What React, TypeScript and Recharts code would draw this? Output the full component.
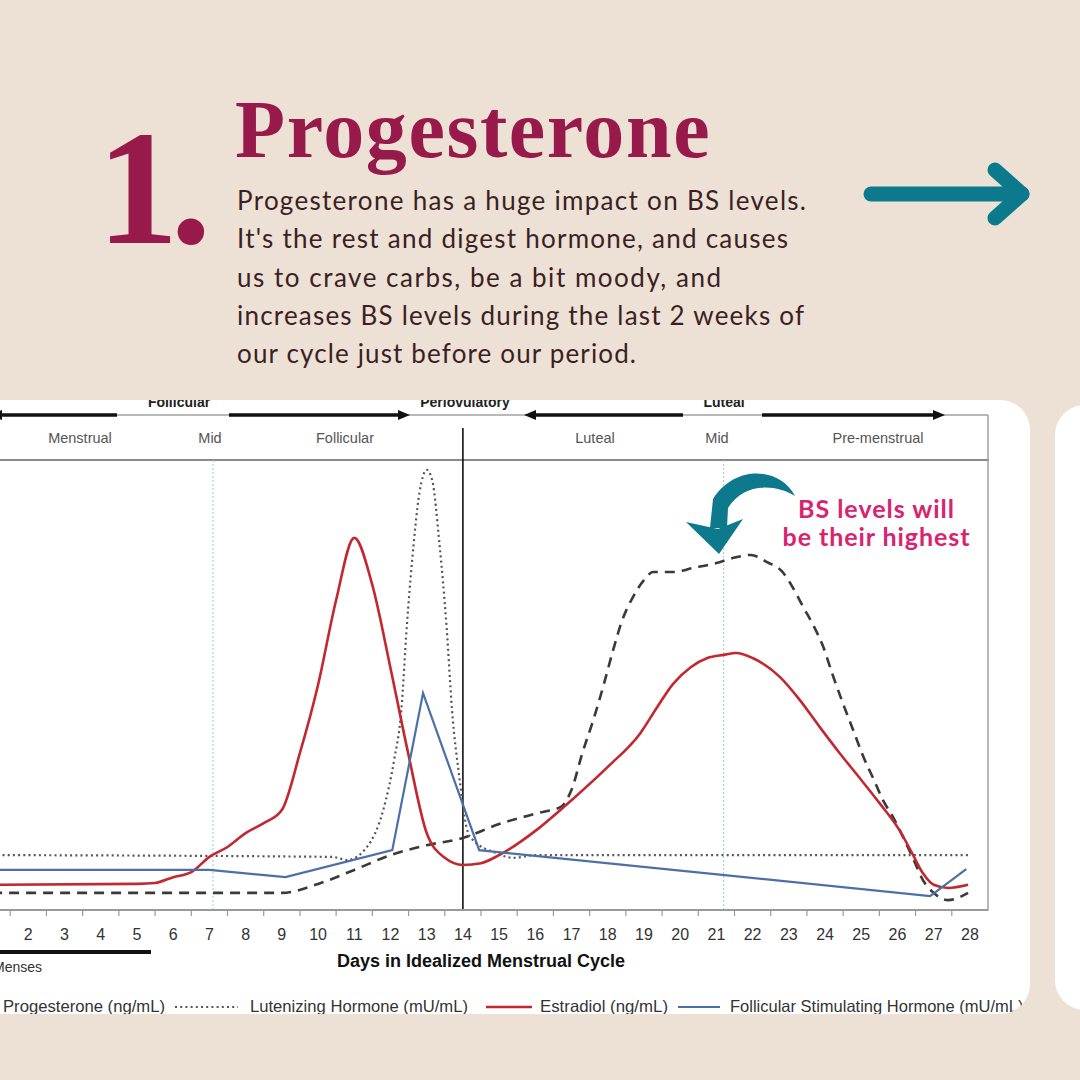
import React from 'react';
import { LineChart, Line, XAxis, YAxis, ReferenceLine } from 'recharts';

// ---------- data ----------
const DAY_TICKS = [1, 2, 3, 4, 5, 6, 7, 8, 9, 10, 11, 12, 13, 14, 15, 16, 17, 18, 19, 20, 21, 22, 23, 24, 25, 26, 27, 28];

const PROG_DAYS = [1, 9, 10, 11, 12, 13, 14, 15, 16.1, 16.7, 17.0, 17.3, 17.6, 17.9, 18.15, 18.4, 18.7, 19.0, 19.25, 19.8, 20.35, 21.0, 21.45, 21.95, 22.4, 22.85, 23.1, 23.4, 23.7, 23.95, 24.2, 24.5, 24.8, 25.05, 25.35, 25.6, 25.9, 26.15, 26.45, 26.7, 27.0, 27.4, 27.95];
const PROG_VALUES = [3.8, 3.8, 5.8, 8.9, 12.2, 14.4, 16.0, 19.1, 21.6, 22.9, 26.7, 34.9, 42.2, 50.4, 57.8, 64.4, 69.6, 73.3, 75.1, 75.1, 76.0, 77.1, 78.2, 78.9, 77.3, 74.9, 71.8, 67.3, 62.9, 58.5, 52.5, 45.8, 39.5, 34.2, 28.9, 24.4, 20.3, 16.3, 11.1, 6.7, 3.8, 2.2, 3.8];

const LH_DAYS = [1, 10.4, 10.8, 11.35, 11.8, 12.1, 12.3, 12.45, 12.6, 12.8, 13.0, 13.15, 13.35, 13.55, 13.7, 13.9, 14.1, 14.2, 14.9, 15.4, 16, 28];
const LH_VALUES = [12.2, 11.8, 11.1, 14.0, 22.2, 33.3, 44.4, 62.9, 77.8, 92.7, 97.8, 95.6, 81.6, 62.9, 44.4, 29.6, 18.4, 16.2, 12.7, 11.6, 12.2, 12.2];

const E2_DAYS = [1, 5, 5.5, 6, 6.5, 7, 7.5, 8, 8.5, 9, 9.5, 10, 10.5, 11, 11.5, 12, 12.5, 13, 13.5, 14, 14.5, 15, 16.1, 17.0, 18.0, 18.9, 19.35, 19.8, 20.3, 20.75, 21.2, 21.55, 22.0, 22.75, 23.3, 23.85, 24.4, 25.0, 25.5, 26.05, 26.4, 26.7, 27.0, 27.4, 27.95];
const E2_VALUES = [5.6, 5.8, 6.0, 7.3, 8.4, 11.8, 14.0, 17.1, 19.3, 22.2, 34.9, 50.0, 68.9, 82.7, 72.2, 53.8, 34.4, 17.1, 11.6, 10.0, 10.4, 12.2, 18.2, 24.4, 31.8, 39.3, 44.9, 50.2, 54.0, 56.0, 56.7, 57.1, 56.0, 51.8, 46.7, 40.7, 34.9, 28.9, 23.8, 17.8, 12.7, 8.2, 5.6, 4.9, 5.6];

const FSH_DAYS = [1, 7, 9.1, 12.05, 12.9, 14.45, 26.9, 27.9];
const FSH_VALUES = [8.9, 8.9, 7.3, 13.3, 48.2, 13.3, 3.1, 9.1];

const SERIES_NAMES = ['Progesterone (ng/mL)', 'Lutenizing Hormone (mU/mL)', 'Estradiol (ng/mL)', 'Follicular Stimulating Hormone (mU/mL)'];

const SUB_PHASES = ['Menstrual', 'Mid', 'Follicular', 'Luteal', 'Mid', 'Pre-menstrual'];
const MAIN_PHASES = ['Follicular', 'Periovulatory', 'Luteal'];
const OVULATION_DAY = 14;
const MID_DAYS = [7.1, 21.2];

const TITLE = 'Progesterone';
const BODY_LINES = [
  'Progesterone has a huge impact on BS levels.',
  "It's the rest and digest hormone, and causes",
  'us to crave carbs, be a bit moody, and',
  'increases BS levels during the last 2 weeks of',
  'our cycle just before our period.',
];
const NOTE_LINES = ['BS levels will', 'be their highest'];

// ---------- layout ----------
const X_MIN = 0.5;
const X_MAX = 28.5;
const CHART_W = 1140;
const CHART_H = 700;
const MARGIN = { top: 80, right: 92, bottom: 130, left: 34 };
const HALF_DAY = (CHART_W - MARGIN.left - MARGIN.right) / (X_MAX - X_MIN) / 2;

const BODY_WIDTHS = [569, 551, 484, 567, 399];
const NOTE_WIDTHS = [156, 187];
// legend: sample start / end and text start, page x
const LEGEND_SAMPLE_X = [[-62, -7], [175, 238], [486, 532], [678, 720]];
const LEGEND_TEXT_X = [3, 250, 540, 730];
const LEGEND_TEXT_W = [162, 218, 128, 300];

const BG = '#ece1d4';
const MAROON = '#971a4a';
const TEAL = '#0c7a8c';
const PINK = '#d9236f';
const SANS = "'Liberation Sans', Arial, sans-serif";

const rows = (days: number[], values: number[]) => days.map((day, i) => ({ day, value: values[i] }));

const SERIES = [
  { name: SERIES_NAMES[0], data: rows(PROG_DAYS, PROG_VALUES), color: '#3a3a3a', width: 2.6, dash: '10 7', curve: 'monotone' },
  { name: SERIES_NAMES[1], data: rows(LH_DAYS, LH_VALUES), color: '#555555', width: 2.2, dash: '2 3.2', curve: 'monotone' },
  { name: SERIES_NAMES[2], data: rows(E2_DAYS, E2_VALUES), color: '#c3272f', width: 2.6, dash: undefined, curve: 'monotone' },
  { name: SERIES_NAMES[3], data: rows(FSH_DAYS, FSH_VALUES), color: '#4d6fa8', width: 2.2, dash: undefined, curve: 'linear' },
];

const DayTick = (props: any) => {
  const { x, y, payload } = props;
  return (
    <g>
      <line x1={x - HALF_DAY} x2={x - HALF_DAY} y1={y} y2={y + 6} stroke="#9a9a9a" strokeWidth={1.2} />
      <text x={x} y={y + 30} textAnchor="middle" fontSize={16} fill="#333" fontFamily={SANS}>
        {payload.value}
      </text>
    </g>
  );
};

const Arrow = ({ x1, x2, y, dir }: { x1: number; x2: number; y: number; dir: 'l' | 'r' }) => {
  const tip = dir === 'r' ? x2 + 8 : x1 - 8;
  const base = dir === 'r' ? x2 - 4 : x1 + 4;
  return (
    <g>
      <line x1={x1} x2={x2} y1={y} y2={y} stroke="#111" strokeWidth={3.5} />
      <polygon points={`${tip},${y} ${base},${y - 5} ${base},${y + 5}`} fill="#111" />
    </g>
  );
};

export default function App() {
  return (
    <div style={{ position: 'absolute', left: 0, top: 0, width: 1080, height: 1080, background: BG, overflow: 'hidden' }}>
      {/* Header */}
      <svg width={1080} height={400} style={{ position: 'absolute', left: 0, top: 0 }}>
        <text x={97} y={243} fontFamily="'Liberation Serif', 'Times New Roman', serif" fontWeight={700} fontSize={163} fill={MAROON} letterSpacing={-8}>
          1.
        </text>
        <text x={235} y={157} fontFamily="'Liberation Serif', 'Times New Roman', serif" fontWeight={700} fontSize={82} fill={MAROON} letterSpacing={1.6}>
          {TITLE}
        </text>
        {BODY_LINES.map((t, i) => (
          <text key={i} x={237} y={210 + i * 38.3} fontFamily="Lato, sans-serif" fontSize={26} fill="#3b1f24" textLength={BODY_WIDTHS[i]} lengthAdjust="spacing">
            {t}
          </text>
        ))}
        <line x1={871} x2={1022} y1={194} y2={194} stroke={TEAL} strokeWidth={15} strokeLinecap="round" />
        <polyline points="995,170 1022,194 995,218" fill="none" stroke={TEAL} strokeWidth={15} strokeLinecap="round" strokeLinejoin="round" />
      </svg>

      {/* second card peeking at right */}
      <div style={{ position: 'absolute', left: 1055, top: 405, width: 120, height: 605, background: '#fff', borderRadius: 30 }} />

      {/* chart card */}
      <div style={{ position: 'absolute', left: -40, top: 400, width: 1070, height: 614, background: '#fff', borderRadius: 30, overflow: 'hidden' }}>
        {/* frame / header / legend overlay in page coordinates */}
        <svg width={1080} height={1080} style={{ position: 'absolute', left: 40, top: -400 }}>
          <line x1={0} x2={988} y1={415} y2={415} stroke="#a0a0a0" strokeWidth={1.3} />
          <Arrow x1={-2} x2={117} y={415} dir="l" />
          <Arrow x1={229} x2={402} y={415} dir="r" />
          <Arrow x1={532} x2={683} y={415} dir="l" />
          <Arrow x1={762} x2={937} y={415} dir="r" />
          <text x={179} y={407} textAnchor="middle" fontFamily={SANS} fontWeight={700} fontSize={14} fill="#222">{MAIN_PHASES[0]}</text>
          <text x={465} y={407} textAnchor="middle" fontFamily={SANS} fontWeight={700} fontSize={14} fill="#222">{MAIN_PHASES[1]}</text>
          <text x={724} y={407} textAnchor="middle" fontFamily={SANS} fontWeight={700} fontSize={14} fill="#222">{MAIN_PHASES[2]}</text>
          {[80, 210, 345, 595, 717, 878].map((cx, i) => (
            <text key={i} x={cx} y={443} textAnchor="middle" fontFamily={SANS} fontSize={14.5} fill="#555">
              {SUB_PHASES[i]}
            </text>
          ))}
          <line x1={0} x2={989} y1={460} y2={460} stroke="#8a8a8a" strokeWidth={2} />
          <line x1={988} x2={988} y1={415} y2={911} stroke="#a0a0a0" strokeWidth={1.5} />
          <line x1={-10} x2={151} y1={952} y2={952} stroke="#111" strokeWidth={4} />
          <text x={42} y={972} textAnchor="end" fontFamily={SANS} fontSize={14} fill="#333">Menses</text>
          <text x={481} y={967} textAnchor="middle" fontFamily={SANS} fontWeight={700} fontSize={18} fill="#111">
            Days in Idealized Menstrual Cycle
          </text>
          {SERIES.map((s, i) => (
            <g key={s.name}>
              <line x1={LEGEND_SAMPLE_X[i][0]} x2={LEGEND_SAMPLE_X[i][1]} y1={1007} y2={1007} stroke={s.color} strokeWidth={s.width} strokeDasharray={s.dash} />
              <text x={LEGEND_TEXT_X[i]} y={1012} fontFamily={SANS} fontSize={16.5} fill="#333" textLength={i < 3 ? LEGEND_TEXT_W[i] : undefined} lengthAdjust="spacingAndGlyphs">
                {s.name}
              </text>
            </g>
          ))}
        </svg>

        <div style={{ position: 'absolute', left: -20, top: -20 }}>
          <LineChart width={CHART_W} height={CHART_H} margin={MARGIN}>
            <XAxis
              type="number"
              dataKey="day"
              domain={[X_MIN, X_MAX]}
              ticks={DAY_TICKS}
              allowDataOverflow
              height={40}
              tickSize={0}
              tickMargin={0}
              tickLine={false}
              axisLine={{ stroke: '#9a9a9a', strokeWidth: 2 }}
              tick={<DayTick />}
              interval={0}
            />
            <YAxis hide domain={[0, 100]} allowDataOverflow />
            {MID_DAYS.map((d) => (
              <ReferenceLine key={d} x={d} stroke="#a9c3dc" strokeWidth={1} strokeDasharray="2 2" />
            ))}
            <ReferenceLine
              segment={[{ x: OVULATION_DAY, y: 0 }, { x: OVULATION_DAY, y: 107.1 }]}
              stroke="#111"
              strokeWidth={1.6}
              ifOverflow="visible"
            />
            {SERIES.map((s) => (
              <Line
                key={s.name}
                data={s.data}
                dataKey="value"
                name={s.name}
                type={s.curve as any}
                stroke={s.color}
                strokeWidth={s.width}
                strokeDasharray={s.dash}
                dot={false}
                activeDot={false}
                isAnimationActive={false}
              />
            ))}
          </LineChart>
        </div>
      </div>

      {/* annotation */}
      <svg width={1080} height={1080} style={{ position: 'absolute', left: 0, top: 0, pointerEvents: 'none' }}>
        <path d="M795,496 C781,468 736,463 713,499 L710,528 L727,528 L728,508 C741,486 771,481 795,496 Z" fill={TEAL} />
        <polygon points="686,522 719,554 743,519 718,529" fill={TEAL} />
        {NOTE_LINES.map((t, i) => (
          <text key={i} x={876} y={518 + i * 28} textAnchor="middle" fontFamily="Lato, sans-serif" fontWeight={700} fontSize={25} fill={PINK} textLength={NOTE_WIDTHS[i]} lengthAdjust="spacing">
            {t}
          </text>
        ))}
      </svg>
    </div>
  );
}
